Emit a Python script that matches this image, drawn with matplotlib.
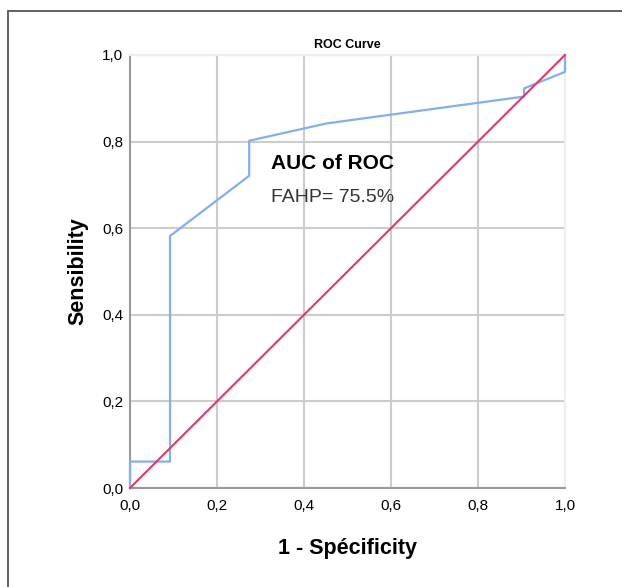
import matplotlib
matplotlib.use("Agg")
import matplotlib.pyplot as plt
from matplotlib.patches import Rectangle

fpr = [0.0, 0.0, 0.092, 0.092, 0.274, 0.274, 0.452, 0.73, 0.906, 0.906, 1.0, 1.0]
tpr = [0.0, 0.061, 0.061, 0.582, 0.721, 0.802, 0.842, 0.88, 0.904, 0.923, 0.961, 1.0]
ref_x = [0.0, 1.0]
ref_y = [0.0, 1.0]
ticks = [0.0, 0.2, 0.4, 0.6, 0.8, 1.0]
tick_labels = ["0,0", "0,2", "0,4", "0,6", "0,8", "1,0"]

plt.rcParams['font.family'] = ['Liberation Sans', 'DejaVu Sans']

fig = plt.figure(figsize=(6.22, 5.87), dpi=100)
fig.patches.append(Rectangle((8/622, -0.1), 1.2, 1 - 11/587 + 0.1, transform=fig.transFigure,
                             fill=False, edgecolor='#555555', linewidth=1.3))

ax = fig.add_axes([130/622, 1 - 488/587, 435/622, 433/587])
ax.set_xlim(0, 1)
ax.set_ylim(0, 1)
ax.set_xticks(ticks)
ax.set_yticks(ticks)
ax.set_xticklabels(tick_labels, fontsize=11)
ax.set_yticklabels(tick_labels, fontsize=11)
ax.tick_params(axis='x', length=0, pad=8)
ax.tick_params(axis='y', length=0, pad=5)
ax.grid(True, color='#cccccc', linewidth=1.5)
ax.set_axisbelow(True)
for s in ['left', 'bottom']:
    ax.spines[s].set_color('#999999')
    ax.spines[s].set_linewidth(1.5)
for s in ['top', 'right']:
    ax.spines[s].set_color('#eeeeee')
    ax.spines[s].set_linewidth(1.5)

ax.plot(fpr, tpr, color='#80b0ee', linewidth=1.6, clip_on=False, zorder=3)
ax.plot(ref_x, ref_y, color='#e03a62', linewidth=1.5, clip_on=False, zorder=4)

ax.text(0.325, 0.75, "AUC of ROC", fontsize=15, fontweight='bold', va='center', ha='left')
ax.text(0.323, 0.67, "FAHP= 75.5%", fontsize=14, color='#333333', va='center', ha='left')

ax.set_title("ROC Curve", fontsize=9, fontweight='bold',
             family=['Liberation Sans Narrow', 'Liberation Sans'], pad=5)
ax.set_xlabel("1 - Spécificity", fontsize=15.5, fontweight='bold', labelpad=18)
ax.set_ylabel("Sensibility", fontsize=15.5, fontweight='bold', labelpad=10)

fig.savefig("out.png", dpi=100)
